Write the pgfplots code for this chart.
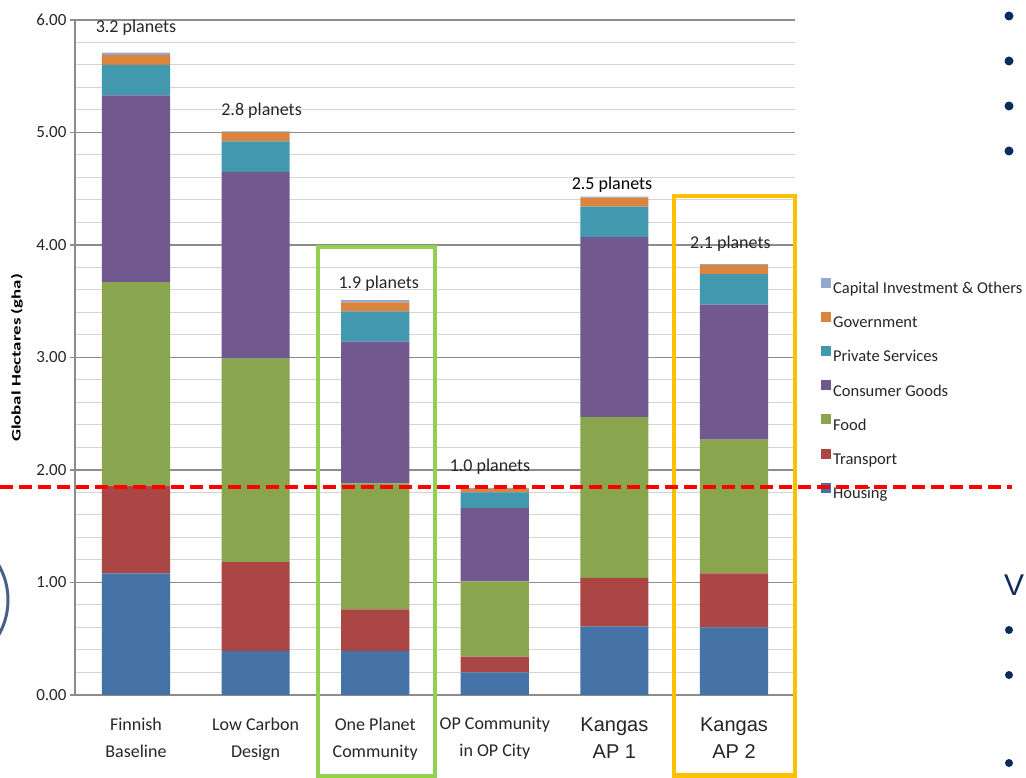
\documentclass[border=0pt]{standalone}
\usepackage{fontspec}
\setmainfont{Carlito}
\newfontfamily\arialfont{Liberation Sans}
\usepackage{pgfplots}
\usepackage{pgfplotstable}
\pgfplotsset{compat=1.18}

\definecolor{housing}{HTML}{4572A7}
\definecolor{transport}{HTML}{AA4643}
\definecolor{food}{HTML}{89A54E}
\definecolor{consumer}{HTML}{71588F}
\definecolor{privserv}{HTML}{4198AF}
\definecolor{govt}{HTML}{DB843D}
\definecolor{capital}{HTML}{93A9CF}
\definecolor{gridmajor}{HTML}{8C8C8C}
\definecolor{gridminor}{HTML}{D4D4D4}
\definecolor{labelgray}{HTML}{262626}
\definecolor{navy}{HTML}{0B2A5E}
\definecolor{boxgreen}{HTML}{92D050}
\definecolor{boxyellow}{HTML}{FFC000}

\tikzset{planet/.style={font=\fontsize{18}{20}\selectfont, text=labelgray}}

% global hectares per person, stacked by category
\pgfplotstableread{
pos housing transport food consumer private gov capital
0 1.08 0.78 1.81 1.66 0.27 0.09 0.02
1 0.39 0.79 1.81 1.66 0.27 0.08 0.01
2 0.39 0.37 1.12 1.26 0.27 0.08 0.02
3 0.20 0.14 0.67 0.65 0.14 0.03 0.01
4 0.61 0.43 1.43 1.60 0.27 0.08 0.01
5 0.60 0.48 1.19 1.20 0.27 0.08 0.01
}\ghadata

\begin{document}
\begin{tikzpicture}
\path[use as bounding box] (0pt,0pt) rectangle (1026pt,778pt);
% edge of a slide graphic on the left
\begin{scope}
\clip (0pt,0pt) rectangle (1026pt,778pt);
\draw[navy!75, line width=3pt] (-62pt,178pt) circle (70pt);
\end{scope}
\begin{axis}[
  at={(75pt,83pt)}, anchor=south west,
  scale only axis, width=720pt, height=675pt,
  ybar stacked, bar width=0.57,
  xmin=-0.51, xmax=5.51, ymin=0, ymax=6,
  xtick={0,1,2,3,4,5},
  xticklabels={{Finnish\\Baseline},{Low Carbon\\Design},{One Planet\\Community},{OP Community\\in OP City},{\arialfont\fontsize{20}{26}\selectfont Kangas\\\arialfont\fontsize{20}{26}\selectfont AP 1},{\arialfont\fontsize{20}{26}\selectfont Kangas\\\arialfont\fontsize{20}{26}\selectfont AP 2}},
  xticklabel style={align=center, font=\fontsize{18}{27}\selectfont, text=labelgray, yshift=-14pt},
  xtick style={draw=none},
  ytick={0,1,2,3,4,5,6},
  minor y tick num=4,
  ymajorgrids, yminorgrids,
  major grid style={draw=gridmajor, line width=1.2pt},
  minor grid style={draw=gridminor, line width=1pt},
  axis x line*=bottom, axis y line*=left,
  axis line style={draw=gridmajor, line width=1.2pt, -},
  tick align=outside, major tick length=5pt, minor tick length=0pt,
  ytick style={draw=gridmajor, line width=1.2pt},
  yticklabel style={font=\fontsize{17}{20}\selectfont, text=labelgray,
    /pgf/number format/.cd, fixed, fixed zerofill, precision=2, assume math mode=true},
  clip=false,
  legend style={at={(1.0360,0.6185)}, anchor=north west, draw=none, fill=none,
    inner sep=0pt, row sep=14.8pt, font=\fontsize{16.5}{19}\selectfont, text=labelgray},
  legend cell align=left,
  reverse legend,
  legend image code/.code={\draw[#1, draw=none] (0pt,1pt) rectangle (10pt,11pt);},
]
\addplot[fill=housing, draw=none] table[x=pos, y=housing] {\ghadata};
\addplot[fill=transport, draw=none] table[x=pos, y=transport] {\ghadata};
\addplot[fill=food, draw=none] table[x=pos, y=food] {\ghadata};
\addplot[fill=consumer, draw=none] table[x=pos, y=consumer] {\ghadata};
\addplot[fill=privserv, draw=none] table[x=pos, y=private] {\ghadata};
\addplot[fill=govt, draw=none] table[x=pos, y=gov] {\ghadata};
\addplot[fill=capital, draw=none] table[x=pos, y=capital] {\ghadata};
\legend{Housing, Transport, Food, Consumer Goods, Private Services, Government, Capital Investment \& Others}

\node[planet] at (axis cs:0,5.93) {3.2 planets};
\node[planet] at (axis cs:1.05,5.19) {2.8 planets};
\node[planet] at (axis cs:2.03,3.66) {1.9 planets};
\node[planet] at (axis cs:2.96,2.03) {1.0 planets};
\node[planet, text=black] at (axis cs:3.98,4.54) {2.5 planets};
\node[planet] at (axis cs:4.97,4.01) {2.1 planets};
\end{axis}

% highlight boxes and one-planet threshold
\draw[boxgreen, line width=4pt] (318pt,2pt) rectangle (435pt,531pt);
\draw[boxyellow, line width=4.5pt] (674pt,2.5pt) rectangle (795pt,582pt);
\draw[red, line width=3.5pt, dash pattern=on 13pt off 6pt] (0pt,291pt) -- (1012pt,291pt);

\node[rotate=90, xscale=1.45, font=\bfseries\fontsize{13}{15}\selectfont, text=black] at (17pt,420pt) {Global Hectares (gha)};

% slide remnants on the right
\foreach \yy in {762,717,672,627} \fill[navy] (1009pt,\yy pt) circle (4.5pt);
\foreach \yy in {148,103,15} \fill[navy] (1009pt,\yy pt) circle (4pt);
\node[font=\arialfont\fontsize{30}{32}\selectfont, text=navy] at (1014pt,193pt) {V};
\end{tikzpicture}
\end{document}
